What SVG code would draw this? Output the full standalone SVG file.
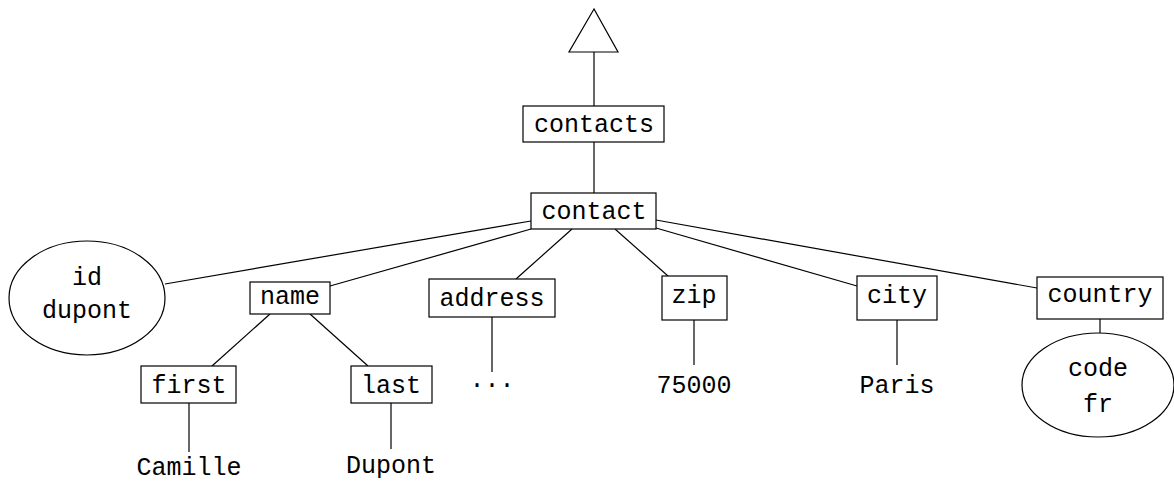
<svg xmlns="http://www.w3.org/2000/svg" width="1174" height="483" viewBox="0 0 1174 483">
<style>
.b{fill:#fff;stroke:#000;stroke-width:1.2}
.l{stroke:#000;stroke-width:1.2;fill:none}
text{font-family:"Liberation Mono","DejaVu Sans Mono",monospace;font-size:25px;fill:#000;text-anchor:middle}
</style>
<rect width="1174" height="483" fill="#fff"/>
<g id="connectors">
<line class="l" x1="594" y1="52" x2="594" y2="106"/>
<line class="l" x1="594" y1="142" x2="594" y2="193"/>
<line class="l" x1="531" y1="221" x2="165" y2="284"/>
<line class="l" x1="531" y1="229" x2="330" y2="286"/>
<line class="l" x1="572" y1="229" x2="516" y2="279"/>
<line class="l" x1="615" y1="229" x2="668" y2="276"/>
<line class="l" x1="656" y1="228" x2="857" y2="286"/>
<line class="l" x1="656" y1="220" x2="1037" y2="288"/>
<line class="l" x1="270" y1="314" x2="212" y2="366"/>
<line class="l" x1="310" y1="314" x2="368" y2="366"/>
<line class="l" x1="189" y1="403" x2="189" y2="452"/>
<line class="l" x1="391" y1="403" x2="391" y2="449"/>
<line class="l" x1="492" y1="317" x2="492" y2="372"/>
<line class="l" x1="694" y1="320" x2="694" y2="365"/>
<line class="l" x1="897" y1="320" x2="897" y2="365"/>
<line class="l" x1="1100" y1="319" x2="1100" y2="333"/>
</g>
<g id="top"><polygon class="b" points="594,9 569,52 618,52"/></g>
<g id="contacts"><rect class="b" x="523" y="106" width="141" height="36"/><text x="594" y="132">contacts</text></g>
<g id="contact"><rect class="b" x="531" y="193" width="125" height="36"/><text x="594" y="219">contact</text></g>
<g id="id"><ellipse class="b" cx="87" cy="298" rx="78" ry="57"/><text x="87" y="285">id</text><text x="87" y="318">dupont</text></g>
<g id="name"><rect class="b" x="250" y="282" width="80" height="32"/><text x="290" y="304">name</text></g>
<g id="first"><rect class="b" x="141" y="366" width="95" height="37"/><text x="189" y="393">first</text></g>
<g id="last"><rect class="b" x="351" y="366" width="81" height="37"/><text x="391" y="393">last</text></g>
<g id="camille"><text x="189" y="475">Camille</text></g>
<g id="dupont"><text x="391" y="473">Dupont</text></g>
<g id="address"><rect class="b" x="429" y="279" width="126" height="38"/><text x="492" y="306">address</text></g>
<g id="dots"><text x="492" y="387">...</text></g>
<g id="zip"><rect class="b" x="662" y="276" width="65" height="44"/><text x="694" y="303">zip</text></g>
<g id="v75000"><text x="694" y="393">75000</text></g>
<g id="city"><rect class="b" x="857" y="276" width="80" height="44"/><text x="897" y="303">city</text></g>
<g id="paris"><text x="897" y="393">Paris</text></g>
<g id="country"><rect class="b" x="1037" y="277" width="126" height="42"/><text x="1100" y="302">country</text></g>
<g id="code"><ellipse class="b" cx="1098" cy="385" rx="76" ry="52"/><text x="1098" y="376">code</text><text x="1098" y="412">fr</text></g>
</svg>
